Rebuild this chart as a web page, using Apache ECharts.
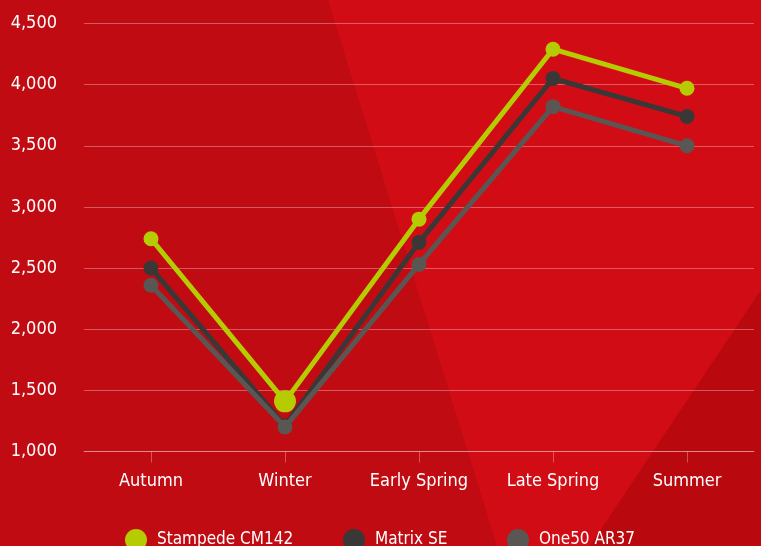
<!DOCTYPE html>
<html><head><meta charset="utf-8">
<script src="https://cdn.jsdelivr.net/npm/echarts@6/dist/echarts.min.js"></script>
<style>html,body{margin:0;padding:0;background:#c00b12}#c{width:761px;height:546px}</style>
</head><body><div id="c"></div>
<script>
const categories = ['Autumn', 'Winter', 'Early Spring', 'Late Spring', 'Summer'];
const stampede = [2740, 1410, 2900, 4290, 3970];
const matrix = [2500, 1210, 2710, 4050, 3740];
const one50 = [2360, 1200, 2530, 3820, 3500];
const seriesNames = ['Stampede CM142', 'Matrix SE', 'One50 AR37'];
const yTicks = [1000, 4500, 500];

const FONT = '"Liberation Sans Narrow", "DejaVu Sans Condensed", sans-serif';
const colors = ['#b5cc02', '#3a3836', '#5a5653'];
const chart = echarts.init(document.getElementById('c'), null, {renderer: 'canvas'});

function mkSeries(name, data, color, z) {
  return {
    name: name, type: 'line', data: data, z: z,
    symbol: 'circle', symbolSize: 15,
    lineStyle: {width: 5, color: color},
    itemStyle: {color: color},
    emphasis: {disabled: true},
    animation: false
  };
}
const s1 = mkSeries(seriesNames[0], stampede.map((v, i) => i === 1 ? {value: v, symbolSize: 22} : v), colors[0], 5);
const s2 = mkSeries(seriesNames[1], matrix, colors[1], 3);
const s3 = mkSeries(seriesNames[2], one50, colors[2], 4);

function legend(name, left) {
  return {
    data: [name], left: left, top: 524, icon: 'circle',
    itemWidth: 22, itemHeight: 22, itemGap: 0,
    textStyle: {color: '#ffffff', fontFamily: FONT, fontSize: 17, padding: [0, 0, 0, 5]},
    selectedMode: false
  };
}

chart.setOption({
  backgroundColor: '#c00b12',
  animation: false,
  graphic: [
    {type: 'polygon', z: -10, silent: true,
     shape: {points: [[328, 0], [761, 0], [761, 290], [590, 546], [497, 546]]},
     style: {fill: '#d10c15'}},
    {type: 'polygon', z: -10, silent: true,
     shape: {points: [[761, 290], [761, 546], [590, 546]]},
     style: {fill: '#b9090f'}}
  ],
  color: colors,
  legend: [legend(seriesNames[0], 120), legend(seriesNames[1], 338), legend(seriesNames[2], 502)],
  grid: {left: 84, right: 7, top: 23.5, bottom: 94.5, containLabel: false},
  xAxis: {
    type: 'category', data: categories, boundaryGap: true,
    axisLine: {show: true, lineStyle: {color: 'rgba(255,255,255,0.3)', width: 1}},
    axisTick: {show: true, alignWithLabel: true, length: 11, interval: 0, lineStyle: {color: 'rgba(255,255,255,0.3)'}},
    axisLabel: {color: '#ffffff', fontFamily: FONT, fontSize: 18, margin: 21, interval: 0}
  },
  yAxis: {
    type: 'value', min: yTicks[0], max: yTicks[1], interval: yTicks[2],
    axisLine: {show: false}, axisTick: {show: false},
    splitLine: {lineStyle: {color: 'rgba(255,255,255,0.32)', width: 1}},
    axisLabel: {color: '#ffffff', fontFamily: FONT, fontSize: 18, margin: 27,
      formatter: v => v.toLocaleString('en-US')}
  },
  series: [s2, s3, s1]
});
</script></body></html>
